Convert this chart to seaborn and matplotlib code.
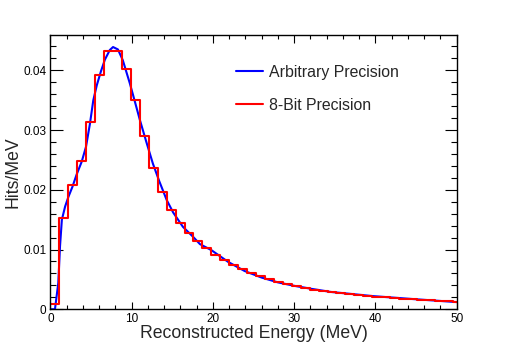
import matplotlib
matplotlib.use("Agg")
import matplotlib.pyplot as plt
import numpy as np
import pandas as pd
import seaborn as sns
from matplotlib.ticker import MultipleLocator

# 8-bit histogram: bin width ~1.1 MeV, heights (Hits/MeV)
bin_width = 1.1
bin_heights = [
    0.0009, 0.0152, 0.0208, 0.0248, 0.0313, 0.0392, 0.0433, 0.0433,
    0.0403, 0.0350, 0.0290, 0.0237, 0.0197, 0.0167, 0.0145, 0.0128,
    0.0114, 0.0102, 0.0091, 0.0082, 0.0074, 0.0067, 0.0060, 0.0055,
    0.0050, 0.0045, 0.0042, 0.0039, 0.0036, 0.0033, 0.0031, 0.0029,
    0.0027, 0.0025, 0.0024, 0.0023, 0.0021, 0.0020, 0.0019, 0.0018,
    0.0017, 0.0016, 0.0015, 0.0014, 0.0013, 0.0012,
]

# arbitrary precision curve, sampled by eye
curve_e = [0.0, 0.55, 0.96, 1.17, 1.4, 1.8, 2.2, 2.7, 3.2, 3.84, 4.37,
           4.86, 5.27, 5.7, 6.2, 6.7, 7.3, 7.7, 8.3, 8.9, 9.77, 10.4, 11.0,
           11.8, 12.6, 13.4, 14.3, 15.1, 16.3, 17.5, 18.4, 19.8, 21.9, 23.9,
           26.0, 28.0, 30.1, 32.2, 34.5, 39.7, 44.7, 50.0]
curve_v = [0.0, 0.0, 0.0044, 0.0105, 0.0150, 0.0172, 0.0188, 0.0205,
           0.0225, 0.0247, 0.0272, 0.0311, 0.0350, 0.0375, 0.0398, 0.0418,
           0.0434, 0.0439, 0.0435, 0.0417, 0.0378, 0.0347, 0.0317, 0.0280,
           0.0244, 0.0214, 0.0183, 0.0162, 0.0138, 0.0122, 0.0109, 0.0099,
           0.0079, 0.0064, 0.0053, 0.0045, 0.0039, 0.0034, 0.0029, 0.0022,
           0.0017, 0.0012]

sns.set_style("ticks")
plt.rcParams['font.family'] = ['Liberation Sans', 'DejaVu Sans']

fig = plt.figure(figsize=(5.08, 3.44), dpi=100)
ax = fig.add_axes([0.0994, 0.101, 0.7996, 0.797])

n_bins = len(bin_heights)
hist_df = pd.DataFrame({
    'energy': (np.arange(n_bins) + 0.5) * bin_width,
    'height': bin_heights,
})

sns.lineplot(x=curve_e, y=curve_v, color='blue', linewidth=1.5, ax=ax,
             label='Arbitrary Precision')
sns.histplot(data=hist_df, x='energy', weights='height', binwidth=bin_width,
             binrange=(0, n_bins * bin_width), element='step', fill=False,
             color='red', linewidth=1.5, ax=ax, label='8-Bit Precision')

ax.set_xlim(0, 50)
ax.set_ylim(0, 0.0459)
ax.xaxis.set_major_locator(MultipleLocator(10))
ax.xaxis.set_minor_locator(MultipleLocator(2))
ax.yaxis.set_major_locator(MultipleLocator(0.01))
ax.yaxis.set_minor_locator(MultipleLocator(0.002))
ax.yaxis.set_major_formatter(plt.FuncFormatter(lambda v, p: '0' if v == 0 else f'{v:.2f}'))

ax.tick_params(axis='both', which='both', direction='in', top=True, right=True,
               labelsize=8.5, colors='black', width=0.8)
ax.tick_params(axis='x', which='major', length=5.4, pad=3)
ax.tick_params(axis='x', which='minor', length=2.9)
ax.tick_params(axis='y', which='major', length=9, pad=3)
ax.tick_params(axis='y', which='minor', length=4.3)
for sp in ax.spines.values():
    sp.set_linewidth(1.0)
    sp.set_color('black')

ax.set_xlabel('Reconstructed Energy (MeV)', fontsize=12.7, labelpad=0)
ax.set_ylabel('Hits/MeV', fontsize=12.7, labelpad=1)

ax.legend(loc='upper left', bbox_to_anchor=(0.4226, 0.944), frameon=False,
          fontsize=11.4, handlelength=1.7, handletextpad=0.38, labelspacing=1.15)

fig.savefig('out.png', dpi=100)
